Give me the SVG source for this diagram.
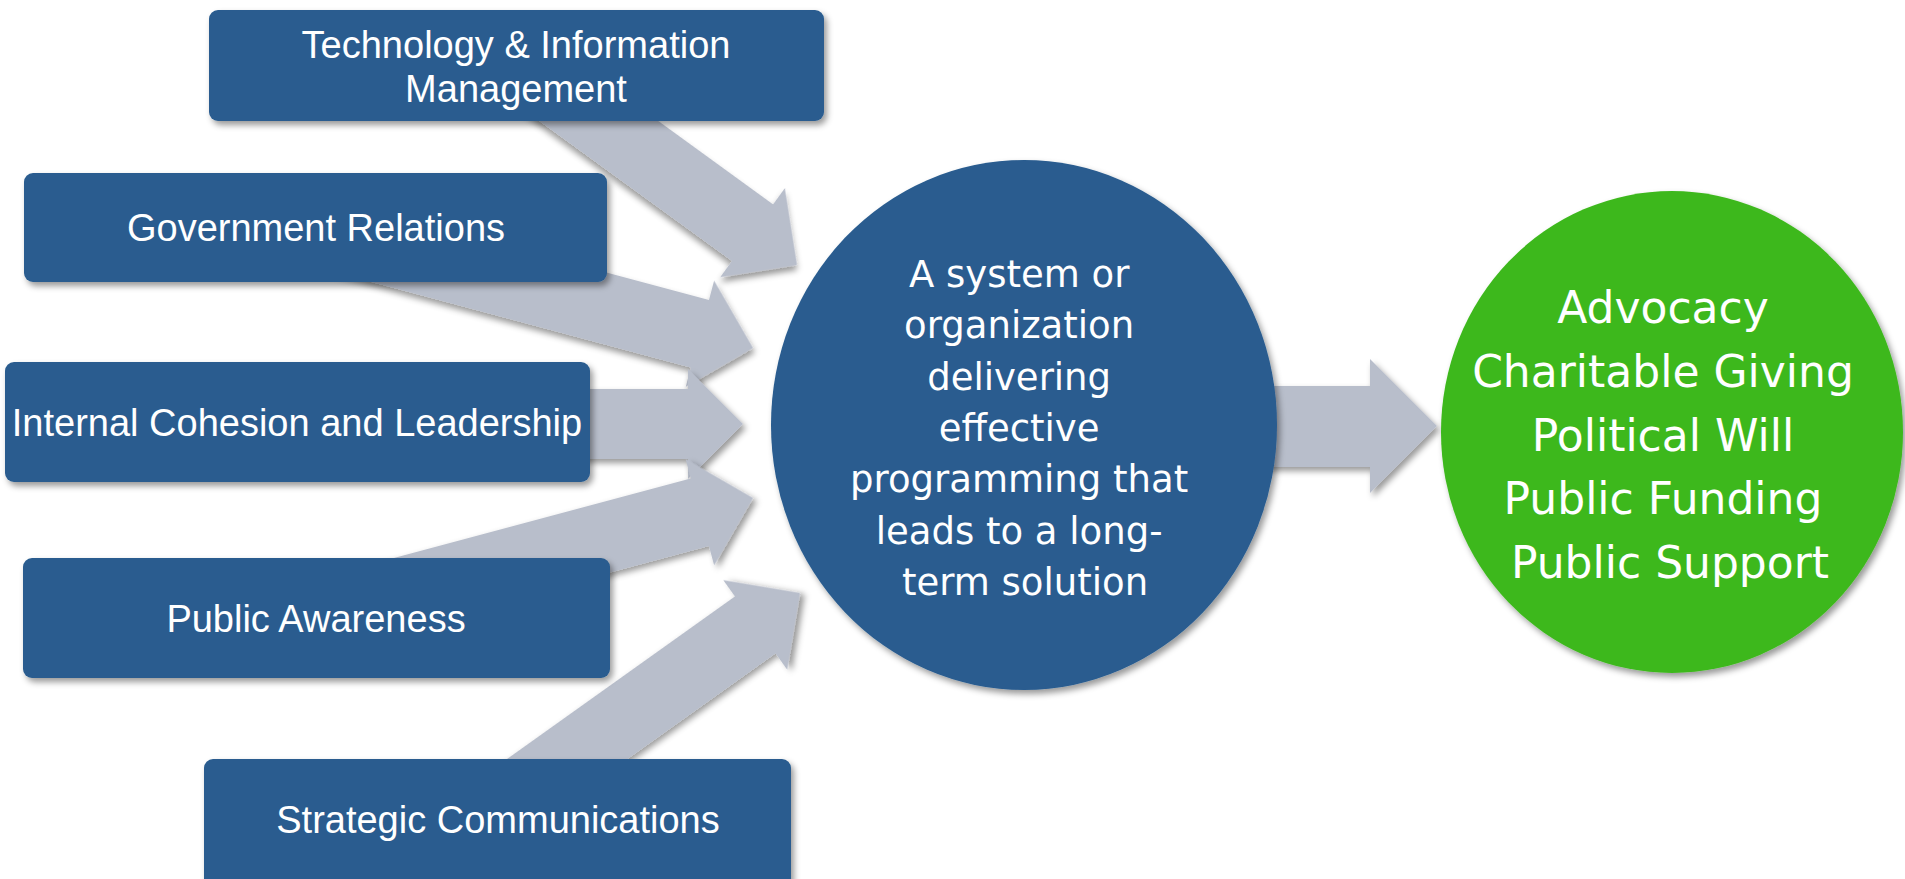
<svg xmlns="http://www.w3.org/2000/svg" xmlns:xlink="http://www.w3.org/1999/xlink" width="1905" height="879" viewBox="0 0 1905 879">
  <defs>
    <filter id="shadow" x="-10%" y="-10%" width="125%" height="130%">
      <feDropShadow dx="3" dy="4" stdDeviation="3" flood-color="#000" flood-opacity="0.4"/>
    </filter>
    <style>
      .box { fill: #295C8F; filter: url(#shadow); }
      .hub { fill: #295C8F; filter: url(#shadow); }
      .outcome { fill: #3DB81C; filter: url(#shadow); }
      .arrow { fill: #B8BECB; filter: url(#shadow); }
      .lbl { fill: #FFFFFF; font-family: "Liberation Sans", Arial, sans-serif; font-size: 38px; text-anchor: middle; }
      .big { fill: #FFFFFF; font-family: "DejaVu Sans", Verdana, sans-serif; text-anchor: middle; }
    </style>
  </defs>

  <rect width="1905" height="879" fill="#FFFFFF"/>

  <!-- block arrows: tip at the local origin, pointing along +x -->
  <g id="connectors">
    <polygon class="arrow" transform="translate(797,265) rotate(36)" points="0,0 -55,-55 -55,-35 -330,-35 -330,35 -55,35 -55,55"/>
    <polygon class="arrow" transform="translate(753,348) rotate(15)" points="0,0 -55,-55 -55,-35 -450,-35 -450,35 -55,35 -55,55"/>
    <polygon class="arrow" transform="translate(743,424)" points="0,0 -55,-55 -55,-35 -300,-35 -300,35 -55,35 -55,55"/>
    <polygon class="arrow" transform="translate(753,498) rotate(-15)" points="0,0 -55,-55 -55,-35 -450,-35 -450,35 -55,35 -55,55"/>
    <polygon class="arrow" transform="translate(800,593) rotate(-35.5)" points="0,0 -55,-55 -55,-35 -400,-35 -400,35 -55,35 -55,55"/>
    <polygon class="arrow" points="1262,386 1370,386 1370,359 1437,426 1370,493 1370,467 1262,467"/>
  </g>

  <g id="node-tech">
    <rect class="box" x="209" y="10" width="615" height="111" rx="9"/>
    <text class="lbl" x="516" y="58">Technology &amp; Information</text>
    <text class="lbl" x="516" y="102">Management</text>
  </g>

  <g id="node-government">
    <rect class="box" x="24" y="173" width="583" height="109" rx="9"/>
    <text class="lbl" x="316" y="241">Government Relations</text>
  </g>

  <g id="node-internal">
    <rect class="box" x="5" y="362" width="585" height="120" rx="9"/>
    <text class="lbl" x="297" y="436">Internal Cohesion and Leadership</text>
  </g>

  <g id="node-awareness">
    <rect class="box" x="23" y="558" width="587" height="120" rx="9"/>
    <text class="lbl" x="316" y="632">Public Awareness</text>
  </g>

  <g id="node-strategic">
    <rect class="box" x="204" y="759" width="587" height="140" rx="9"/>
    <text class="lbl" x="498" y="833">Strategic Communications</text>
  </g>

  <g id="node-system">
    <ellipse class="hub" cx="1024" cy="425" rx="253" ry="265"/>
    <text class="big" font-size="37">
      <tspan x="1025" y="287">A system or</tspan>
      <tspan x="1025" y="338">organization</tspan>
      <tspan x="1025" y="390">delivering</tspan>
      <tspan x="1025" y="441">effective</tspan>
      <tspan x="1025" y="492">programming that</tspan>
      <tspan x="1025" y="544">leads to a long-</tspan>
      <tspan x="1025" y="595">term solution</tspan>
    </text>
  </g>

  <g id="node-outcomes">
    <ellipse class="outcome" cx="1672" cy="432" rx="231" ry="241"/>
    <text class="big" font-size="44">
      <tspan x="1670" y="323">Advocacy</tspan>
      <tspan x="1670" y="387">Charitable Giving</tspan>
      <tspan x="1670" y="451">Political Will</tspan>
      <tspan x="1670" y="514">Public Funding</tspan>
      <tspan x="1670" y="578">Public Support</tspan>
    </text>
  </g>
</svg>
